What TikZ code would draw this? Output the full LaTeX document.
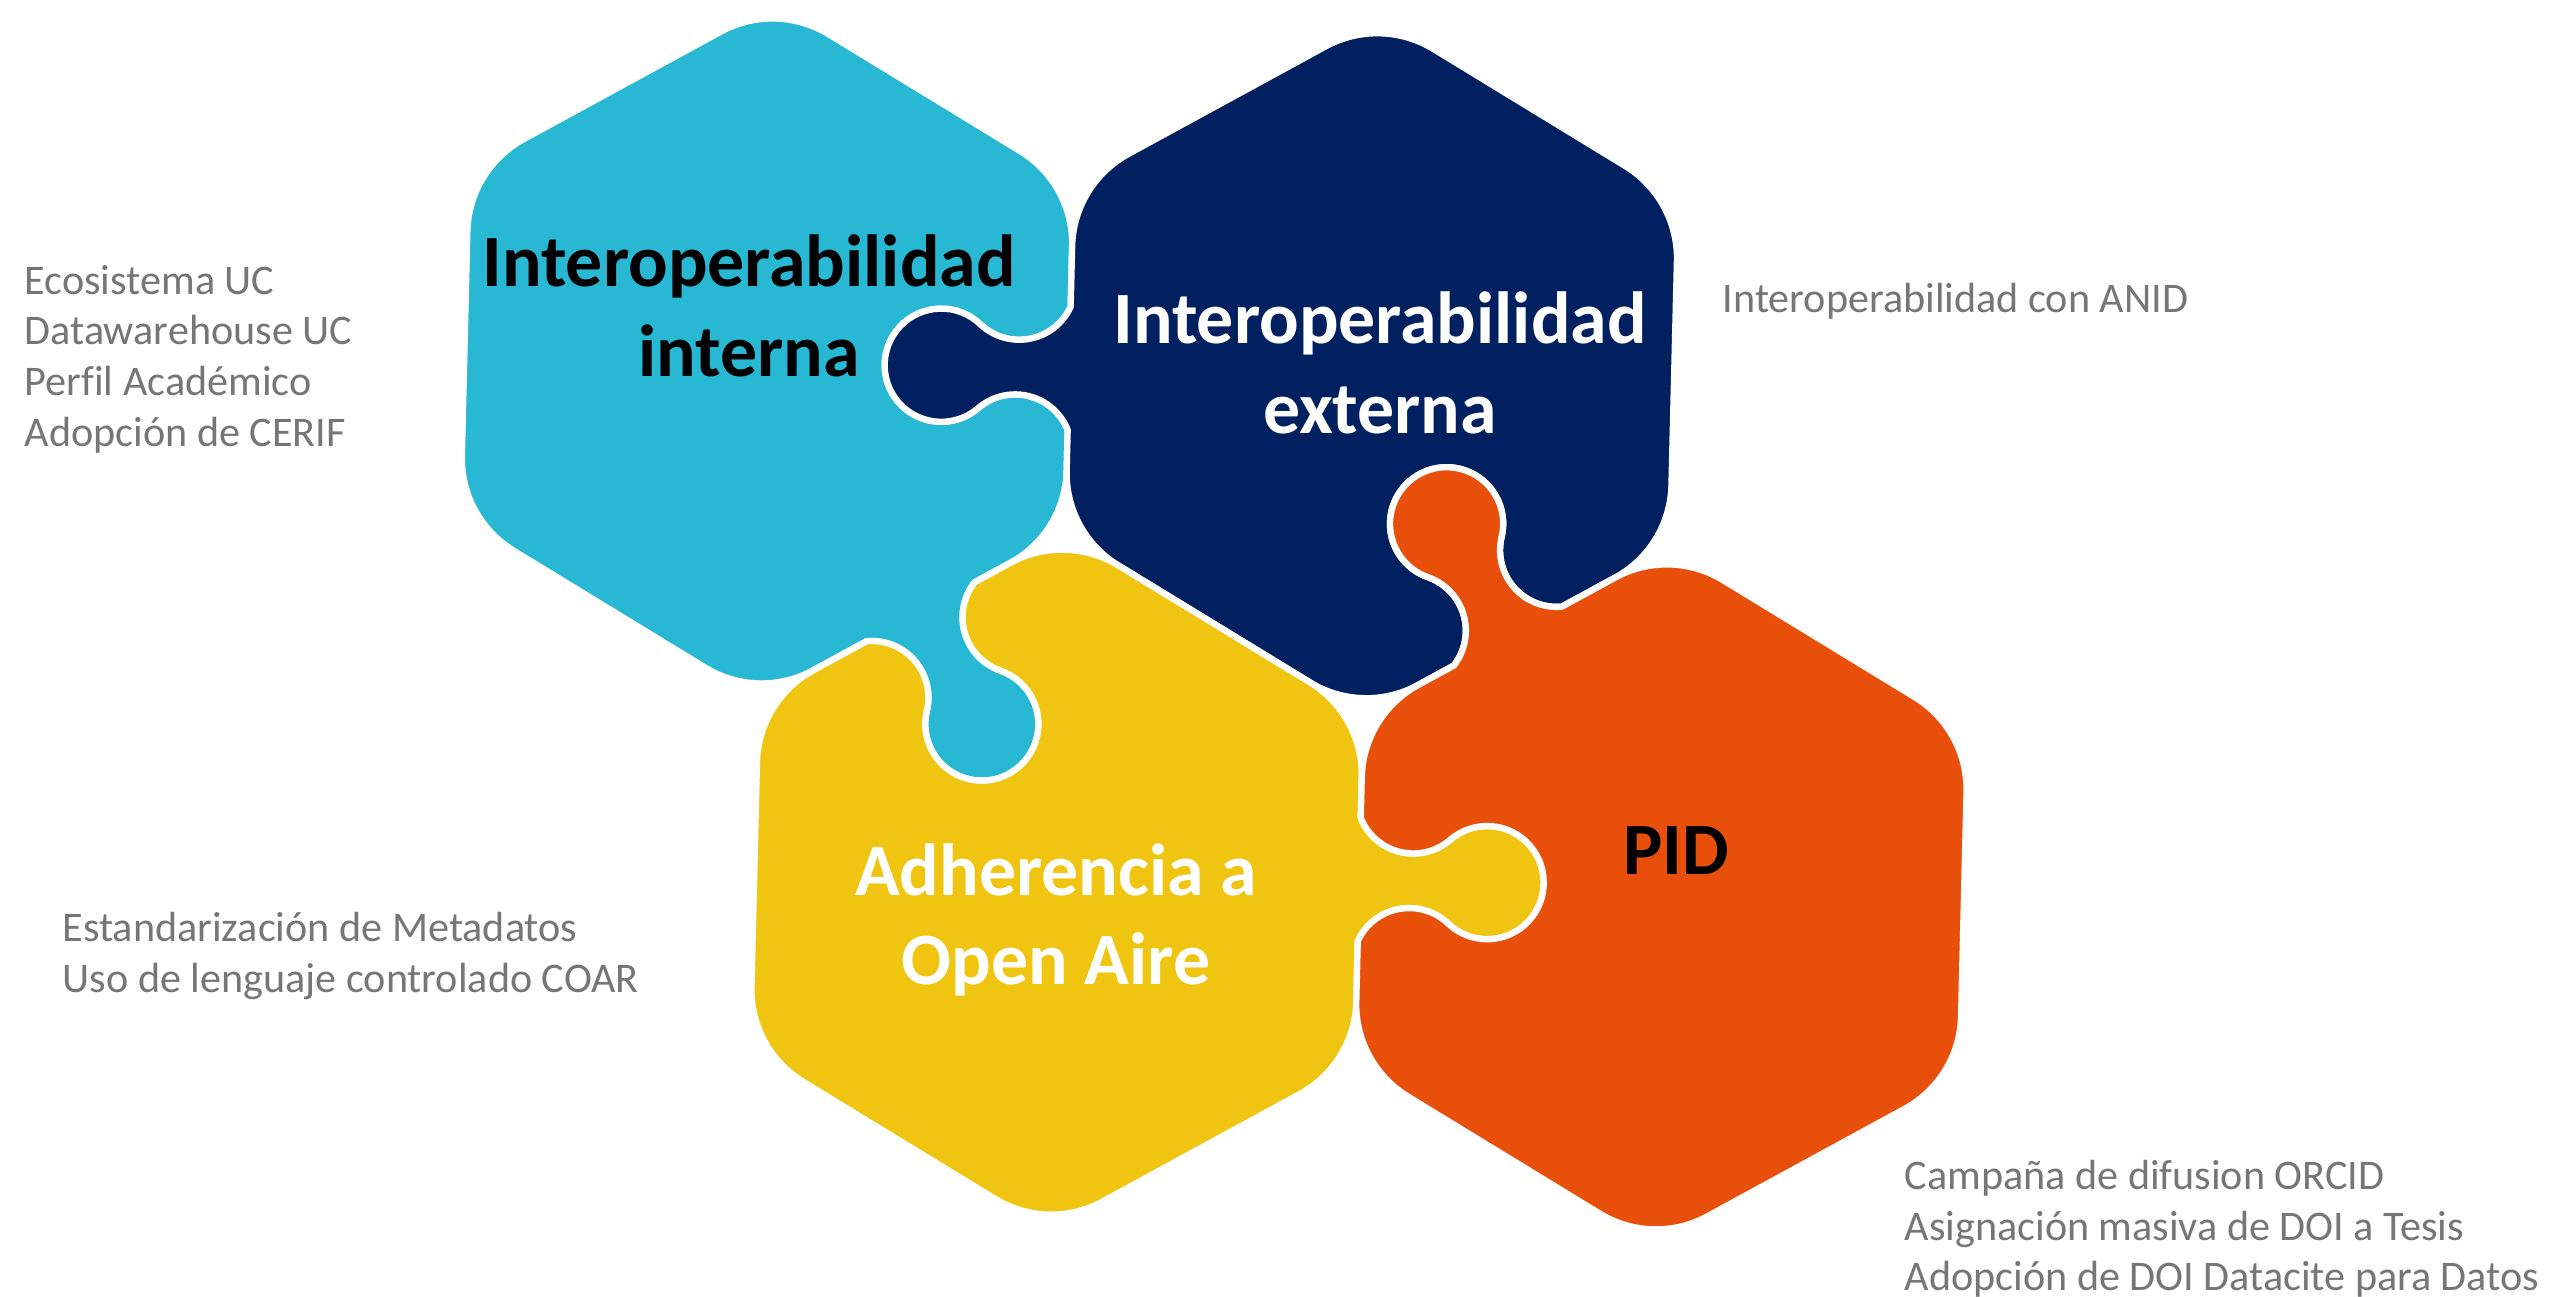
\documentclass[tikz,border=0pt]{standalone}
\usepackage{fontspec}
\setmainfont{Carlito}[Ligatures=CommonOff]
\definecolor{pzcyan}{RGB}{41,184,212}
\definecolor{pznavy}{RGB}{0,32,96}
\definecolor{pzyellow}{RGB}{240,197,17}
\definecolor{pzorange}{RGB}{232,79,10}
\definecolor{pzgray}{RGB}{118,118,118}
\tikzset{
  piece/.style={draw=white,line width=1.8pt,line join=round},
  title/.style={font=\fontsize{21}{25.5}\selectfont\bfseries,align=center},
  note/.style={font=\fontsize{12}{14.4}\selectfont,text=pzgray,align=left,anchor=west,inner sep=0pt}
}
% one side of a rounded hexagon: straight, knob out, or socket in
\newcommand{\flatedge}[1]{{[rotate=#1,xshift=3.025cm] -- (0,1.123)}}
\newcommand{\knobedge}[1]{{[rotate=#1,xshift=3.025cm] -- (0,-0.516)
  arc[start angle=156.73,end angle=47.86,radius=0.566]
  arc[start angle=227.86,end angle=492.14,radius=0.566]
  arc[start angle=-47.86,end angle=-156.73,radius=0.566] -- (0,1.123)}}
\newcommand{\sockedge}[1]{{[rotate=#1,xshift=3.025cm] -- (0,-0.716)
  arc[start angle=23.27,end angle=132.14,radius=0.566]
  arc[start angle=-47.86,end angle=-312.14,radius=0.566]
  arc[start angle=227.86,end angle=336.73,radius=0.566] -- (0,1.123)}}
\newcommand{\hexpiece}[6]{(-0.54,-3.181)
  arc[start angle=-120,delta angle=60,radius=1.08] #1{-60}
  arc[start angle=-60,delta angle=60,radius=1.08] #2{0}
  arc[start angle=0,delta angle=60,radius=1.08] #3{60}
  arc[start angle=60,delta angle=60,radius=1.08] #4{120}
  arc[start angle=120,delta angle=60,radius=1.08] #5{180}
  arc[start angle=180,delta angle=60,radius=1.08] #6{240} -- cycle}
\begin{document}
\begin{tikzpicture}
\useasboundingbox (0,0) rectangle (25.52,12.97);
\begin{scope}[shift={(7.67,9.46)},rotate=-1.4]
  \path[piece,fill=pzcyan] \hexpiece{\knobedge}{\sockedge}{\flatedge}{\flatedge}{\flatedge}{\flatedge};
  \begin{scope}[shift={(6.05,0)}]
    \path[piece,fill=pznavy] \hexpiece{\sockedge}{\flatedge}{\flatedge}{\flatedge}{\knobedge}{\flatedge};
  \end{scope}
  \begin{scope}[shift={(3.025,-5.2395)}]
    \path[piece,fill=pzyellow] \hexpiece{\flatedge}{\knobedge}{\flatedge}{\sockedge}{\flatedge}{\flatedge};
  \end{scope}
  \begin{scope}[shift={(9.075,-5.2395)}]
    \path[piece,fill=pzorange] \hexpiece{\flatedge}{\flatedge}{\flatedge}{\knobedge}{\sockedge}{\flatedge};
  \end{scope}
\end{scope}
\node[title] (intern) at (7.49,9.91) {Interoperabilidad\\interna};
\node[title,text=white] (extern) at (13.80,9.34) {Interoperabilidad\\externa};
\node[title,text=white] (aire) at (10.56,3.77) {Adherencia a\\Open Aire};
\node[title] (pid) at (16.76,4.46) {PID};
\node[note] (ucnote) at (0.24,9.38) {Ecosistema UC\\Datawarehouse UC\\Perfil Académico\\Adopción de CERIF};
\node[note] (anidnote) at (17.22,9.96) {Interoperabilidad con ANID};
\node[note] (coarnote) at (0.62,3.41) {Estandarización de Metadatos\\Uso de lenguaje controlado COAR};
\node[note] (doinote) at (19.04,0.68) {Campaña de difusion ORCID\\Asignación masiva de DOI a Tesis\\Adopción de DOI Datacite para Datos};
\end{tikzpicture}
\end{document}
